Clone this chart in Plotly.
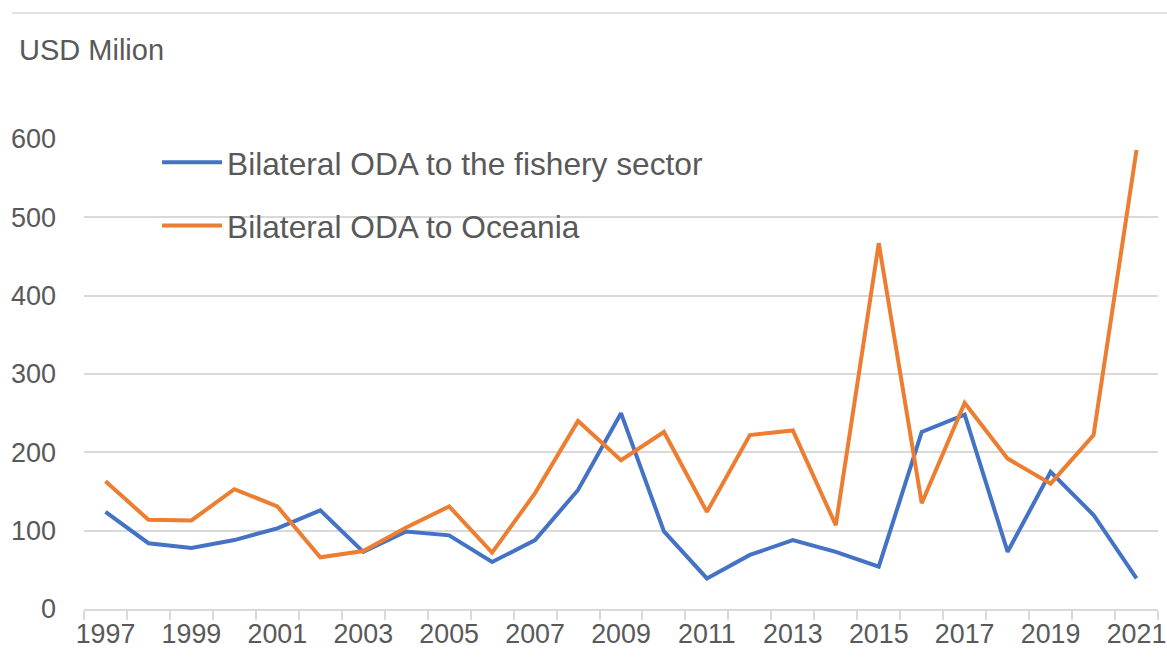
import plotly.graph_objects as go

years = list(range(1997, 2022))
fishery = [124, 84, 78, 88, 103, 126, 73, 99, 94, 60, 88, 152, 250, 99, 39, 69, 88, 73, 54, 226, 248, 73, 175, 120, 39]
oceania = [163, 114, 113, 153, 131, 66, 74, 104, 131, 72, 148, 240, 190, 226, 124, 222, 228, 107, 467, 135, 263, 192, 160, 222, 586]
label_years = list(range(1997, 2022, 2))
y_ticks = [0, 100, 200, 300, 400, 500, 600]

GRID = "#d9d9d9"
TXT = "#595959"
FONT = "Liberation Sans, Arial, sans-serif"

fig = go.Figure()
fig.add_trace(go.Scatter(x=years, y=fishery, mode="lines", name="Bilateral ODA to the fishery sector",
                         line=dict(color="#4472C4", width=4), legendgroup="a"))
fig.add_trace(go.Scatter(x=years, y=oceania, mode="lines", name="Bilateral ODA to Oceania",
                         line=dict(color="#ED7D31", width=4), legendgroup="b"))

fig.update_layout(
    width=1167, height=669,
    margin=dict(l=84, r=9, t=139, b=60),
    paper_bgcolor="white", plot_bgcolor="white",
    font=dict(family=FONT, size=27, color=TXT),
    showlegend=True,
    legend=dict(x=0.068, y=1.008, xanchor="left", yanchor="top", bgcolor="rgba(0,0,0,0)",
                font=dict(size=31.7, color=TXT), traceorder="grouped", tracegroupgap=19,
                itemwidth=60),
    xaxis=dict(range=[1996.5, 2021.5], tickvals=label_years, ticktext=[str(y) for y in label_years],
               ticks="", showgrid=False, showline=True, linecolor=GRID, linewidth=1.5,
               tickfont=dict(size=26.8, color=TXT), zeroline=False, automargin=False,
               minor=dict(tick0=1996.5, dtick=1, ticks="outside", ticklen=9, tickcolor=GRID,
                          tickwidth=1.5, showgrid=False)),
    yaxis=dict(range=[0, 600], tickvals=y_ticks, showgrid=True, gridcolor=GRID, gridwidth=1.5,
               zeroline=False, showline=False, ticks="", ticklabelstandoff=27, automargin=False,
               tickfont=dict(size=27, color=TXT)),
)

fig.add_annotation(text="USD Milion", xref="paper", yref="paper", x=-0.062, y=1.189,
                   xanchor="left", yanchor="middle", showarrow=False,
                   font=dict(size=29, color=TXT, family=FONT))
fig.add_shape(type="line", xref="paper", yref="paper", x0=-0.067, x1=1.01, y0=1.268, y1=1.268,
              line=dict(color=GRID, width=1.5))

fig.write_html("out.html")
